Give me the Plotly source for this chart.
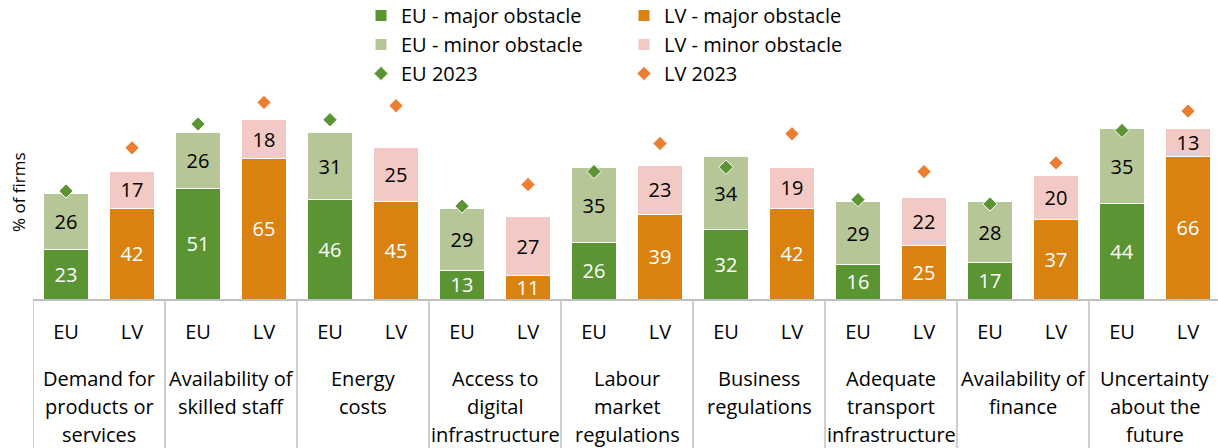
import plotly.graph_objects as go

categories = [
    "Demand for<br>products or<br>services",
    "Availability of<br>skilled staff",
    "Energy<br>costs",
    "Access to<br>digital<br>infrastructure",
    "Labour<br>market<br>regulations",
    "Business<br>regulations",
    "Adequate<br>transport<br>infrastructure",
    "Availability of<br>finance",
    "Uncertainty<br>about the<br>future",
]
group_labels = ["EU", "LV"]
eu_major = [23, 51, 46, 13, 26, 32, 16, 17, 44]
eu_minor = [26, 26, 31, 29, 35, 34, 29, 28, 35]
lv_major = [42, 65, 45, 11, 39, 42, 25, 37, 66]
lv_minor = [17, 18, 25, 27, 23, 19, 22, 20, 13]
eu_2023 = [50, 81, 83, 43, 59, 61, 46, 44, 78]
lv_2023 = [70, 91, 89.5, 53, 72, 76.5, 59, 63, 87]

FONT = "Open Sans"
W, H = 1218, 448
PAGE_L, PAGE_R = 33, 1218      # plot area left/right (px)
PAGE_TOP, PAGE_BASE = 83, 299  # plot area top/bottom (px)
M_L = PAGE_L
M_R = W - PAGE_R
M_T = PAGE_TOP
M_B = H - PAGE_BASE
PLOT_H = PAGE_BASE - PAGE_TOP
PLOT_W = PAGE_R - PAGE_L
SLOT = 66.0                    # px per bar slot
X_MAX = -0.5 + PLOT_W / SLOT


def py(pix):
    """pixel y -> paper y"""
    return (PAGE_BASE - pix) / PLOT_H


def px(pix):
    """pixel x -> paper x"""
    return (pix - PAGE_L) / PLOT_W


n = len(categories)
x_eu = [2 * i for i in range(n)]
x_lv = [2 * i + 1 for i in range(n)]

C_EU_MAJ = "#5B9432"
C_EU_MIN = "#B7C697"
C_LV_MAJ = "#D9820F"
C_LV_MIN = "#F2C9C4"
C_EU_23 = "#5B9432"
C_LV_23 = "#ED7D31"

fig = go.Figure()
bw = 0.667
common = dict(width=bw, textposition="inside", insidetextanchor="middle",
              texttemplate="%{y}", textangle=0, cliponaxis=False)
fig.add_trace(go.Bar(x=x_eu, y=eu_major, name="EU - major obstacle",
                     marker=dict(color=C_EU_MAJ, line=dict(color="white", width=1)),
                     textfont=dict(color="white", size=20, family=FONT),
                     legend="legend", **common))
fig.add_trace(go.Bar(x=x_eu, y=eu_minor, name="EU - minor obstacle",
                     marker=dict(color=C_EU_MIN, line=dict(color="white", width=1)),
                     textfont=dict(color="black", size=20, family=FONT),
                     legend="legend", **common))
fig.add_trace(go.Bar(x=x_lv, y=lv_major, name="LV - major obstacle",
                     marker=dict(color=C_LV_MAJ, line=dict(color="white", width=1)),
                     textfont=dict(color="white", size=20, family=FONT),
                     legend="legend2", **common))
fig.add_trace(go.Bar(x=x_lv, y=lv_minor, name="LV - minor obstacle",
                     marker=dict(color=C_LV_MIN, line=dict(color="white", width=1)),
                     textfont=dict(color="black", size=20, family=FONT),
                     legend="legend2", **common))
fig.add_trace(go.Scatter(x=x_eu, y=eu_2023, mode="markers", name="EU 2023",
                         marker=dict(symbol="diamond", size=11, color=C_EU_23,
                                     line=dict(color="white", width=1)),
                         legend="legend"))
fig.add_trace(go.Scatter(x=x_lv, y=lv_2023, mode="markers", name="LV 2023",
                         marker=dict(symbol="diamond", size=11, color=C_LV_23,
                                     line=dict(color="white", width=1)),
                         legend="legend2"))

# category dividers
shapes = []
for k in range(n + 1):
    xv = -0.5 + 2 * k
    shapes.append(dict(type="line", xref="x", yref="paper", x0=xv, x1=xv,
                       y0=0, y1=py(H + 5), line=dict(color="#BFBFBF", width=1.5)))

annotations = []
line_y = [378, 406, 434]
for i, c in enumerate(categories):
    for j, ln in enumerate(c.split("<br>")):
        annotations.append(dict(x=2 * i + 0.5, xref="x", y=py(line_y[j]), yref="paper",
                                text=ln, showarrow=False, xanchor="center",
                                yanchor="middle",
                                font=dict(family=FONT, size=20, color="black")))
annotations.append(dict(x=px(18), xref="paper", y=py(192),
                        yref="paper", text="% of firms", textangle=-90,
                        showarrow=False, xanchor="center", yanchor="middle",
                        font=dict(family=FONT, size=17, color="black")))

legend_common = dict(font=dict(family=FONT, size=20, color="black"),
                     bgcolor="rgba(0,0,0,0)", orientation="v",
                     xref="paper", yref="paper", xanchor="left",
                     yanchor="top", traceorder="normal", itemclick=False)

fig.update_layout(
    width=W, height=H,
    margin=dict(l=M_L, r=M_R, t=M_T, b=M_B, autoexpand=False),
    barmode="stack",
    plot_bgcolor="white", paper_bgcolor="white",
    font=dict(family=FONT, size=20, color="black"),
    uniformtext=dict(minsize=20, mode="show"),
    showlegend=True,
    legend=dict(x=px(361), y=py(-4), **legend_common),
    legend2=dict(x=px(624), y=py(-4), **legend_common),
    xaxis=dict(range=[-0.5, X_MAX], tickmode="array", tickvals=list(range(2 * n)),
               ticktext=group_labels * n, showgrid=False, zeroline=False,
               showline=True, linecolor="#BFBFBF", linewidth=1.5, ticks="",
               ticklabelstandoff=14, automargin=False,
               tickfont=dict(family=FONT, size=20, color="black"), fixedrange=True),
    yaxis=dict(range=[0, 100], showgrid=False, zeroline=False, showline=False,
               showticklabels=False, ticks="", fixedrange=True, automargin=False),
    shapes=shapes,
    annotations=annotations,
)

fig.write_html("out.html",
               config={"displayModeBar": False},
               post_script="document.body.style.margin='0';"
                           "document.body.style.overflow='hidden';")
